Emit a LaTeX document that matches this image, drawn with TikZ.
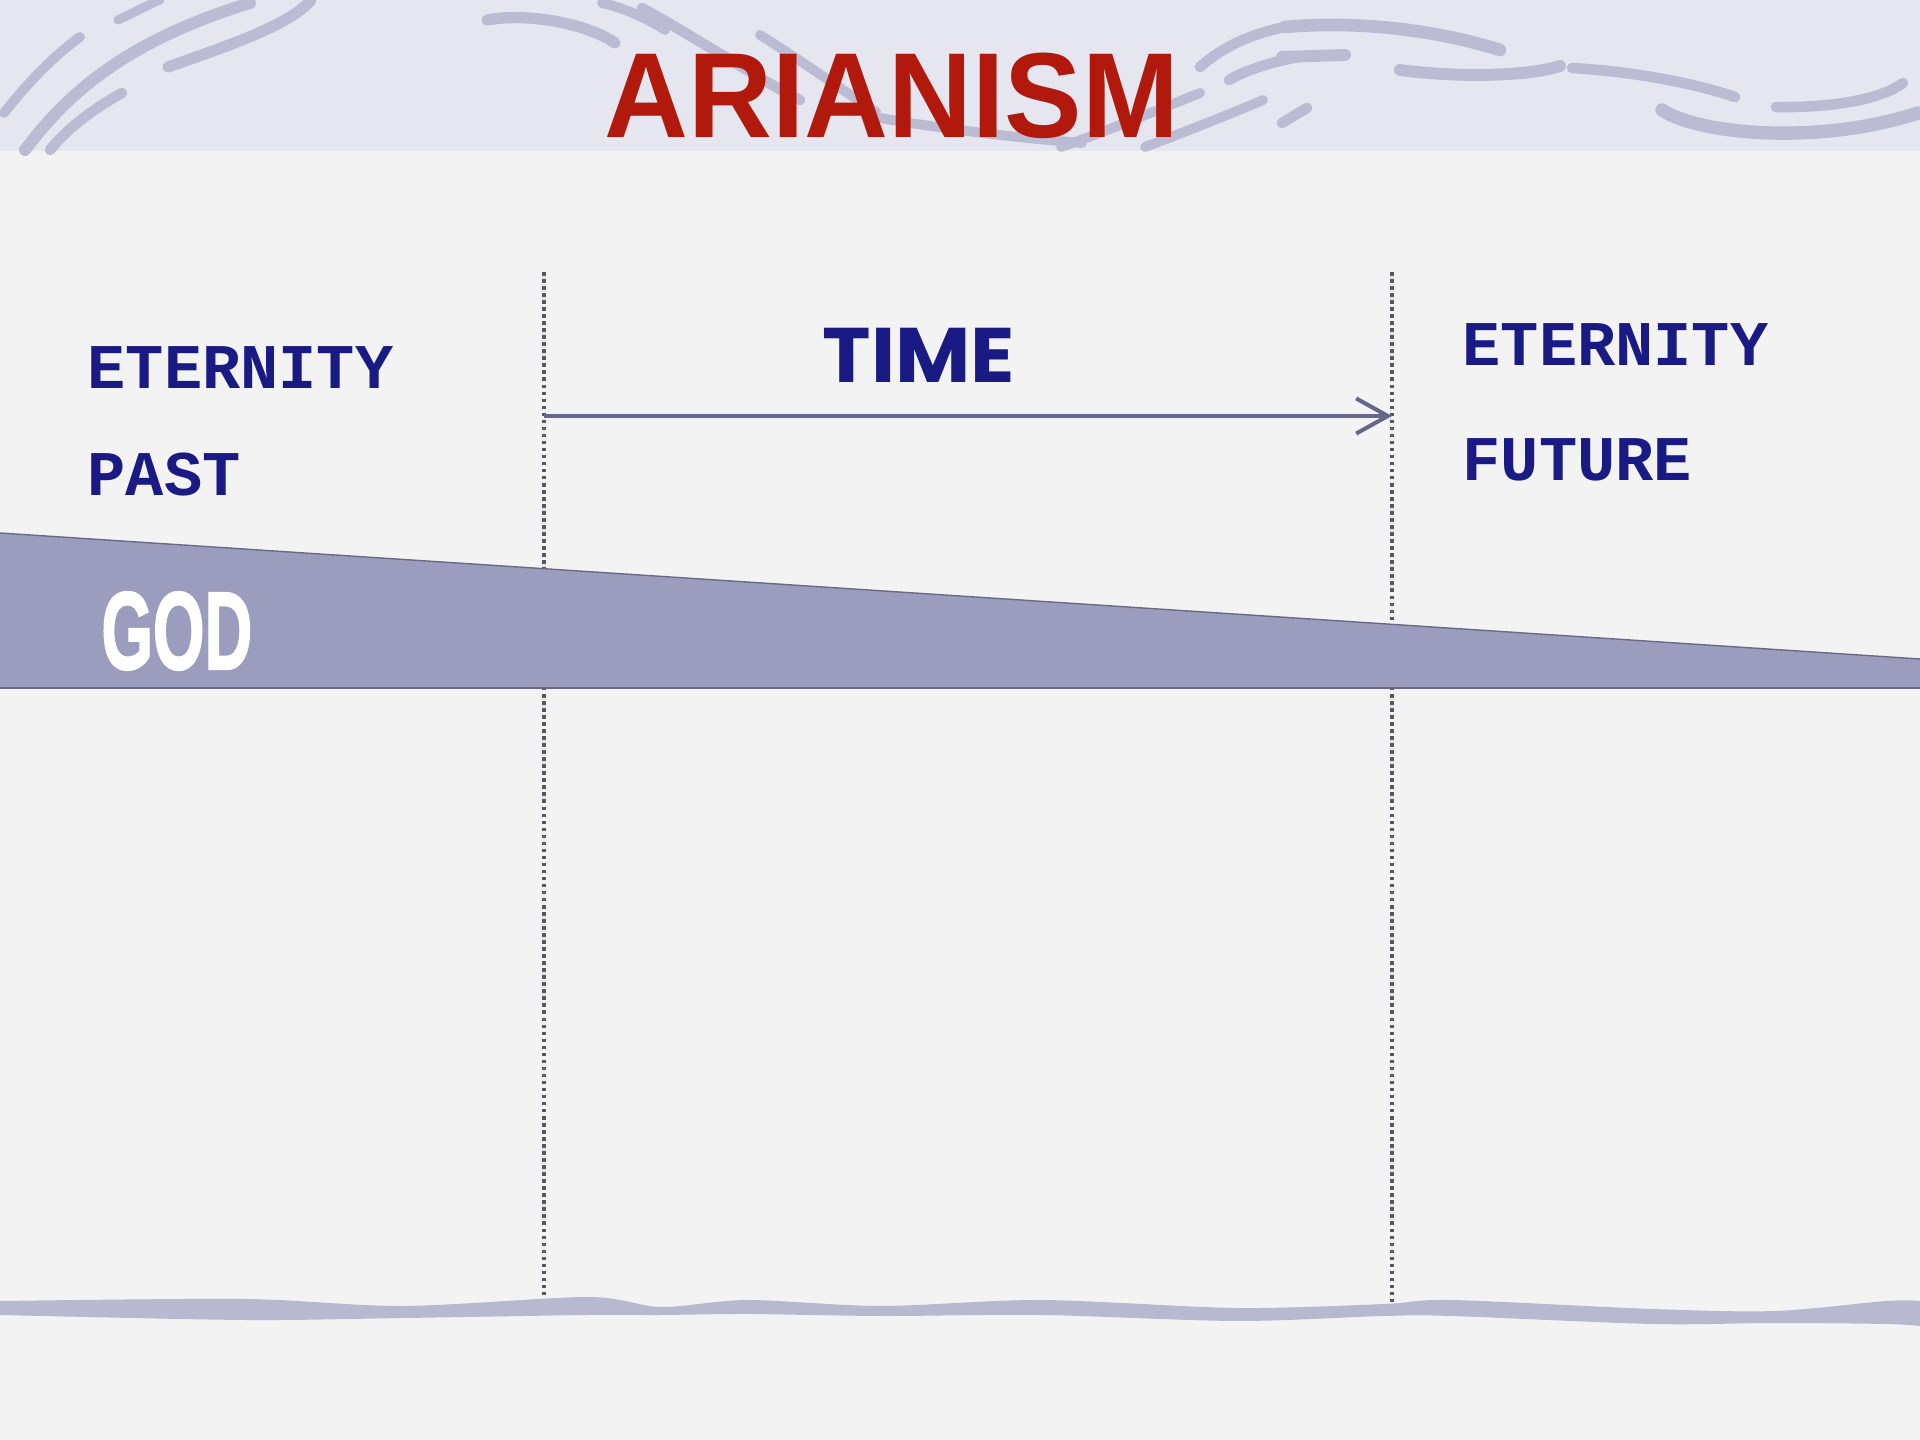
\documentclass[tikz,border=0pt]{standalone}
\usepackage{fontspec}
\usetikzlibrary{arrows.meta}
\newfontfamily\titlefont{Liberation Sans}
\newfontfamily\godfont{Liberation Sans Bold}[FakeBold=2]
\newfontfamily\monofont{Liberation Mono}
\newfontfamily\timefont{Poppins}
\definecolor{headerbg}{HTML}{E5E6F0}
\definecolor{bodybg}{HTML}{F3F3F4}
\definecolor{swooshcol}{HTML}{BBBCD3}
\definecolor{titlered}{HTML}{B0190C}
\definecolor{labelblue}{HTML}{1A1A85}
\definecolor{arrowgray}{HTML}{66668A}
\definecolor{dotgray}{HTML}{55556A}
\definecolor{bandfill}{HTML}{9C9CBE}
\definecolor{bandedge}{HTML}{6A6A88}
\definecolor{wavecol}{HTML}{B8B9D0}
\tikzset{
  swoosh/.style={draw=swooshcol, line cap=round, line width=#1},
  swoosh/.default=3pt,
  labeltext/.style={inner sep=0pt, anchor=base west, text=labelblue, font=\monofont\bfseries\fontsize{18.1}{20}\selectfont},
  divider/.style={draw=dotgray, line width=1pt, dash pattern=on 1pt off 1pt},
  timearrow/.style={draw=arrowgray, line width=1.15pt, -{Straight Barb[length=9pt,width=10pt,line width=1.15pt]}},
}
\begin{document}
\begin{tikzpicture}[x=0.01cm, y=-0.01cm]
\useasboundingbox (0,0) rectangle (1920,1440);
% backgrounds
\fill[bodybg] (0,0) rectangle (1920,1440);
\fill[headerbg] (0,0) rectangle (1920,151);
% header swooshes
\draw[swoosh=3.4pt] (25,150) .. controls (70,90) and (130,40) .. (250,3);
\draw[swoosh=3pt] (50,150) .. controls (70,125) and (100,105) .. (122,93);
\draw[swoosh=2.8pt] (4,113) .. controls (30,80) and (55,55) .. (80,37);
\draw[swoosh=2.6pt] (118,20) .. controls (135,12) and (150,4) .. (160,0);
\draw[swoosh=3.2pt] (168,67) .. controls (230,45) and (290,25) .. (311,0);
\draw[swoosh=3.2pt] (487,20) .. controls (530,12) and (590,25) .. (615,43);
\draw[swoosh=2.8pt] (602,3) .. controls (625,8) and (650,20) .. (665,30);
\draw[swoosh=3pt] (642,8) .. controls (700,40) and (760,80) .. (800,100);
\draw[swoosh=2.8pt] (760,35) .. controls (800,60) and (850,95) .. (876,112);
\draw[swoosh=2.8pt] (880,118) .. controls (950,130) and (1020,138) .. (1082,143);
\draw[swoosh=3pt] (1200,67) .. controls (1230,40) and (1270,28) .. (1300,25);
\draw[swoosh=3pt] (1229,80) .. controls (1250,68) and (1280,60) .. (1300,57);
\draw[swoosh=2.8pt] (1061,147) .. controls (1110,130) and (1170,105) .. (1200,93);
\draw[swoosh=2.8pt] (1145,147) .. controls (1190,130) and (1240,110) .. (1263,100);
\draw[swoosh=3.6pt] (1285,27) .. controls (1340,22) and (1420,25) .. (1500,50);
\draw[swoosh=3.4pt] (1282,57) -- (1345,55);
\draw[swoosh=3.4pt] (1400,70) .. controls (1460,78) and (1530,76) .. (1560,66);
\draw[swoosh=3pt] (1572,68) .. controls (1640,72) and (1700,85) .. (1735,97);
\draw[swoosh=3.8pt] (1662,110) .. controls (1700,135) and (1820,145) .. (1918,113);
\draw[swoosh=3pt] (1776,107) .. controls (1830,108) and (1880,100) .. (1903,83);
\draw[swoosh=3pt] (1282,123) -- (1307,108);
% title
\node[inner sep=0pt, anchor=base, text=titlered, font=\titlefont\bfseries\fontsize{34.4}{40}\selectfont, xscale=0.96] (title) at (892,138) {ARIANISM};
% dotted dividers
\coordinate (ltop) at (544,272);
\coordinate (lbot) at (544,1310);
\coordinate (rtop) at (1392,272);
\coordinate (rbot) at (1392,1310);
\draw[divider] (ltop) -- (lbot);
\draw[divider] (rtop) -- (rbot);
% time arrow
\coordinate (tstart) at (544,416);
\coordinate (tend) at (1392,416);
\draw[timearrow] (tstart) -- (tend);
\node[inner sep=0pt, anchor=base, text=labelblue, font=\timefont\bfseries\fontsize{22}{26}\selectfont, xscale=1.06] (time) at (919,383) {TIME};
% labels
\node[labeltext] (etpast) at (87,389) {ETERNITY};
\node[labeltext] (past) at (87,496) {PAST};
\node[labeltext] (etfut) at (1462,366) {ETERNITY};
\node[labeltext] (future) at (1462,481) {FUTURE};
% GOD band
\fill[bandfill] (0,533) -- (1920,659) -- (1920,688) -- (0,688) -- cycle;
\draw[bandedge, line width=0.4pt] (0,533) -- (1920,659);
\draw[bandedge, line width=0.6pt] (0,688) -- (1920,688);
\node[inner sep=0pt, anchor=base west, text=white, font=\godfont\fontsize{31.4}{36}\selectfont, xscale=0.6] (god) at (101,669) {GOD};
% bottom wave
\fill[wavecol] plot[smooth] coordinates {(0,1301) (245,1299) (404,1306) (588,1297) (661,1307) (747,1300) (882,1306) (1041,1300) (1237,1308) (1384,1304) (1451,1300) (1653,1309) (1775,1311) (1886,1301) (1920,1301)}
  -- plot[smooth] coordinates {(1920,1326) (1886,1324) (1775,1323) (1653,1324) (1451,1316) (1384,1316) (1237,1321) (1041,1315) (882,1316) (747,1314) (661,1315) (588,1315) (404,1318) (245,1320) (0,1315)} -- cycle;
\end{tikzpicture}
\end{document}
